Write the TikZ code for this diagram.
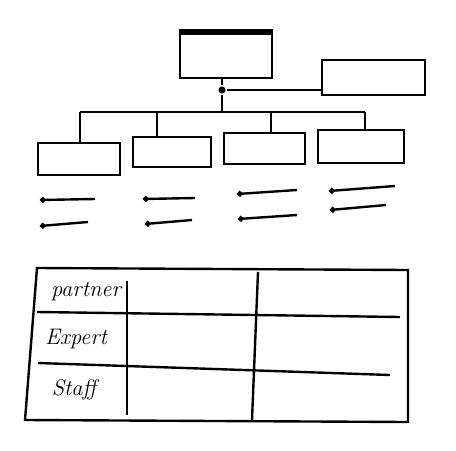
\documentclass[tikz,border=0pt]{standalone}
\usetikzlibrary{arrows.meta}

\tikzset{
  box/.style={draw, line width=3.4pt, inner sep=0pt},
  dot/.style={circle, fill, inner sep=0pt, minimum size=10pt},
  rowlabel/.style={font=\fontsize{32}{34}\selectfont\itshape, anchor=center},
}

\begin{document}
\begin{tikzpicture}[x=0.5mm, y=-0.5mm, line width=3.4pt]
            \useasboundingbox (0,0) rectangle (456,450);
            % chart
            \node[box, minimum width=46mm, minimum height=22.5mm] (top) at (226,55.5) {};
            \draw[line width=8pt] (top.north west) -- (top.north east);
            \node[box, minimum width=51.5mm, minimum height=17.5mm] (right) at (373.5,77.5) {};
            \node[box, minimum width=41mm, minimum height=16mm] (b1) at (79,159) {};
            \node[box, minimum width=39mm, minimum height=15mm] (b2) at (172,152) {};
            \node[box, minimum width=40.5mm, minimum height=15.5mm] (b3) at (264.5,148.5) {};
            \node[box, minimum width=43mm, minimum height=16.5mm] (b4) at (361,146.5) {};
            \node[dot] (j) at (222,90) {};
            \coordinate (bus1) at (80,112);
            \coordinate (bus2) at (157,112);
            \coordinate (bus3) at (271,112);
            \coordinate (bus4) at (365,112);
            \draw (top.south -| j) -- (j) -- (j |- bus1);
            \draw (j) -- (j -| right.west);
            \draw (bus1) -- (bus4);
            \draw (bus1) -- (bus1 |- b1.north);
            \draw (bus2) -- (bus2 |- b2.north);
            \draw (bus3) -- (bus3 |- b3.north);
            \draw (bus4) -- (bus4 |- b4.north);
            \foreach \xa/\ya/\xb/\yb in {40/200/95/199, 40/226/88/222, 143/199/195/198, 145/224/192/220,
                237/194/297/190, 238/219/297/215, 329/191/395/186, 330/210/386/205}
              \draw[{Circle[length=8pt]}-] (\xa,\ya) -- (\xb,\yb);
            % table
            \draw (37,268) -- (408,270) -- (408,422) -- (25,420) -- cycle;
            \draw (37,312) -- (400,317);
            \draw (38,363) -- (390,375);
            \draw (127,281) -- (127,415);
            \draw (258,272) -- (252,420);
            \node[rowlabel] (partner) at (86,292) {partner};
            \node[rowlabel] (expert) at (76,339) {Expert};
            \node[rowlabel] (staff) at (74,390) {Staff};
        \end{tikzpicture}
\end{document}
